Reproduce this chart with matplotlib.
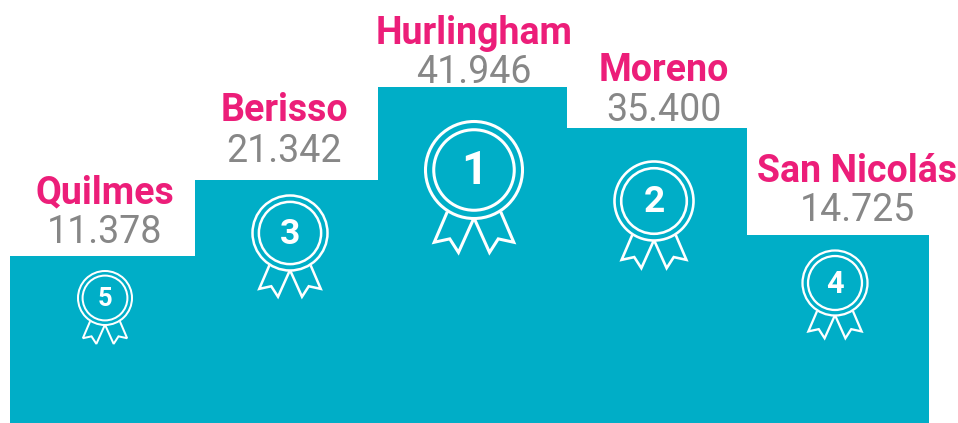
import matplotlib
matplotlib.use('Agg')
import matplotlib.pyplot as plt
from matplotlib.patches import Circle, Polygon

plt.rcParams['font.family'] = ['Roboto', 'DejaVu Sans']

# data
names = ['Quilmes', 'Berisso', 'Hurlingham', 'Moreno', 'San Nicolás']
value_labels = ['11.378', '21.342', '41.946', '35.400', '14.725']
ranks = [5, 3, 1, 2, 4]
podium_heights = [167, 243, 336, 295, 188]  # steps are not to scale with the values

# layout, all in pixels of the 958x423 picture
step_edges = [10, 195, 378, 567, 747, 929]
label_x = [105, 284, 474, 664, 857]
name_base = [203, 121, 44, 81, 182]
value_base = [243, 162, 83, 121, 221]
badge_x = [105, 290, 474, 654, 835]
badge_y = [298, 233, 170, 201, 283]
badge_r = [27, 37.5, 48.5, 39.5, 32.5]

TEAL = '#00AEC7'
PINK = '#EC1E79'
GREY = '#878787'


def draw_badge(ax, x, y, r, rank):
    lw = r * 0.035 + 0.5
    ax.add_patch(Circle((x, y), r, fill=False, ec='white', lw=lw, zorder=3))
    ax.add_patch(Circle((x, y), r * 0.83, fill=False, ec='white', lw=lw, zorder=3))
    # two ribbon tails, the right one mirrors the left one
    tail = [(0.55, 0.86), (0.82, 1.49), (0.50, 1.42), (0.32, 1.70), (0.01, 1.01)]
    for side in [-1, 1]:
        pts = [(x + side * a * r, y + b * r) for a, b in tail]
        ax.add_patch(Polygon(pts, closed=False, fill=False, ec='white', lw=lw,
                             joinstyle='miter', zorder=3))
    ax.text(x, y + r * 0.03, str(rank), color='white', fontsize=r * 0.68,
            fontweight='bold', ha='center', va='center', zorder=4)


fig = plt.figure(figsize=(9.58, 4.23), dpi=100)
ax = fig.add_axes([0, 0, 1, 1])
ax.set_xlim(0, 958)
ax.set_ylim(423, 0)
ax.axis('off')

lefts = step_edges[:-1]
widths = [b - a for a, b in zip(step_edges[:-1], step_edges[1:])]
ax.bar(lefts, podium_heights, width=widths, bottom=[423 - h for h in podium_heights],
       align='edge', color=TEAL, lw=0)

for i in range(len(names)):
    ax.text(label_x[i], name_base[i], names[i], color=PINK, fontsize=27,
            fontweight='bold', ha='center', va='baseline')
    ax.text(label_x[i], value_base[i], value_labels[i], color=GREY, fontsize=27,
            ha='center', va='baseline')
    draw_badge(ax, badge_x[i], badge_y[i], badge_r[i], ranks[i])

fig.savefig('out.png', dpi=100)
